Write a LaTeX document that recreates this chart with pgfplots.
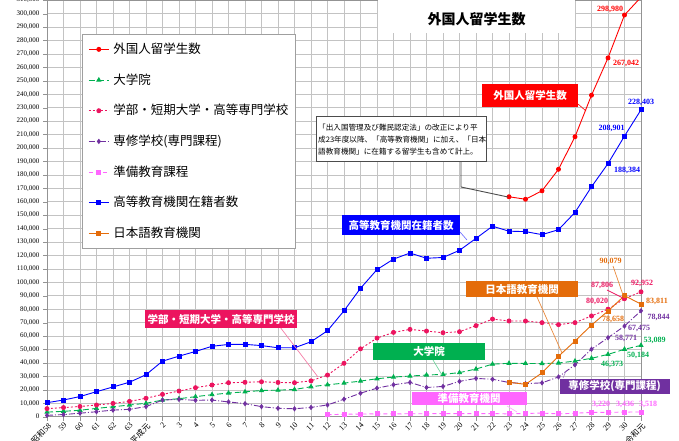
\documentclass[border=0pt]{standalone}
\usepackage{fontspec}
\setmainfont{Liberation Serif}
\newfontfamily\jp{Noto Sans CJK JP}
\usepackage{pgfplots}
\pgfplotsset{compat=1.18}
\definecolor{cRed}{RGB}{255,0,0}
\definecolor{cGreen}{RGB}{0,176,80}
\definecolor{cPink}{RGB}{236,20,95}
\definecolor{cPurple}{RGB}{112,48,160}
\definecolor{cMag}{RGB}{255,102,255}
\definecolor{cBlue}{RGB}{0,0,255}
\definecolor{cOrange}{RGB}{228,108,10}
\definecolor{gridc}{RGB}{195,195,195}
\begin{document}
\begin{tikzpicture}
\useasboundingbox (0,0) rectangle (679pt,441pt);
\begin{axis}[
  at={(47pt,24.3pt)}, anchor=south west,
  scale only axis, width=594pt, height=416.5pt,
  xmin=0, xmax=36, ymin=0, ymax=310000,
  xtick={0,...,36},
  xticklabels={{\jp 昭和}58,59,60,61,62,63,{\jp 平成元},2,3,4,5,6,7,8,9,10,11,12,13,14,15,16,17,18,19,20,21,22,23,24,25,26,27,28,29,30,{\jp 令和元}},
  ytick distance=10000,
  scaled y ticks=false,
  /pgf/number format/assume math mode=true,
  yticklabel style={font=\fontsize{7}{7}\selectfont, /pgf/number format/.cd, fixed, 1000 sep={,}},
  xticklabel style={font=\fontsize{8}{8}\selectfont, rotate=45, anchor=north east, inner sep=1pt},
  xmajorgrids, ymajorgrids,
  grid style={gridc, line width=0.6pt},
  axis line style={draw=gray!85},
  tick style={gray!85},
  tick pos=left, tick align=outside, major tick length=4pt,
  every axis plot/.append style={line width=0.9pt},
  legend cell align=left,
  legend style={at={(0.0589,0.919)}, anchor=north west, draw=gray!75, line width=0.8pt, fill=white,
    font=\jp\fontsize{12.5}{13}\selectfont, row sep=16.7pt, column sep=3pt,
    inner xsep=6pt, inner ysep=8pt,
    nodes={inner sep=1pt, text height=10pt, text depth=2pt}},
  legend image code/.code={\draw[mark repeat=2,mark phase=2] plot coordinates {(0pt,0pt) (10pt,0pt) (20pt,0pt)};},
]
% 外国人留学生数
\addplot[cRed, mark=*, mark size=2pt] coordinates {
(28,163697)(29,161848)(30,168145)(31,184155)(32,208379)(33,239287)(34,267042)(35,298980)(36,312214)};
\addlegendentry{外国人留学生数}
% 大学院
\addplot[cGreen, dash pattern=on 6pt off 3pt, mark=triangle*, mark size=2.2pt, mark options={solid}] coordinates {
(0,3400)(1,4000)(2,4800)(3,6200)(4,7400)(5,8700)(6,10000)(7,12400)(8,13400)(9,14900)(10,16400)(11,17600)(12,18500)(13,19500)(14,19750)(15,20250)(16,22300)(17,23750)(18,25000)(19,26500)(20,28250)(21,29500)(22,30250)(23,31000)(24,31500)(25,32800)(26,35500)(27,39097)(28,39749)(29,39641)(30,39567)(31,39979)(32,41396)(33,43478)(34,46373)(35,50184)(36,53089)};
\addlegendentry{大学院}
% 学部・短期大学・高等専門学校
\addplot[cPink, dash pattern=on 2pt off 2pt, mark=*, mark size=2pt, mark options={solid}] coordinates {
(0,6000)(1,6800)(2,7600)(3,8700)(4,9900)(5,11400)(6,13700)(7,16600)(8,19100)(9,21600)(10,23600)(11,25300)(12,25600)(13,26000)(14,25500)(15,25300)(16,26700)(17,31000)(18,39750)(19,50500)(20,58500)(21,62750)(22,65000)(23,63750)(24,62500)(25,63250)(26,67750)(27,72665)(28,71244)(29,71216)(30,70000)(31,68500)(32,70000)(33,75000)(34,80020)(35,87806)(36,92952)};
\addlegendentry{学部・短期大学・高等専門学校}
% 専修学校
\addplot[cPurple, dash pattern=on 6pt off 2pt on 1pt off 2pt, mark=diamond*, mark size=2pt, mark options={solid}] coordinates {
(0,1000)(1,1600)(2,2600)(3,3700)(4,4900)(5,5500)(6,7500)(7,12400)(8,12900)(9,12200)(10,12400)(11,11000)(12,9700)(13,7500)(14,6250)(15,5900)(16,6900)(17,8750)(18,13000)(19,17500)(20,21250)(21,23750)(22,25500)(23,21750)(24,22500)(25,26300)(26,28500)(27,27872)(28,25463)(29,24586)(30,25200)(31,29600)(32,38654)(33,50235)(34,58771)(35,67475)(36,78844)};
\addlegendentry{専修学校(専門課程)}
% 準備教育課程
\addplot[cMag, dash pattern=on 4pt off 3pt, mark=square*, mark size=2pt, mark options={solid}] coordinates {
(17,1500)(18,1800)(19,2000)(20,2100)(21,2100)(22,2200)(23,2200)(24,2300)(25,2300)(26,2300)(27,2300)(28,2100)(29,2400)(30,2700)(31,2100)(32,2600)(33,3180)(34,3220)(35,3436)(36,3518)};
\addlegendentry{準備教育課程}
% 高等教育機関在籍者数
\addplot[cBlue, mark=square*, mark size=2pt] coordinates {
(0,10428)(1,12410)(2,15009)(3,18631)(4,22154)(5,25643)(6,31251)(7,41347)(8,45066)(9,48561)(10,52405)(11,53787)(12,53847)(13,52921)(14,51298)(15,51298)(16,55755)(17,64011)(18,78812)(19,95550)(20,109508)(21,117302)(22,121812)(23,117927)(24,118498)(25,123829)(26,132720)(27,141774)(28,138075)(29,137756)(30,135519)(31,139185)(32,152062)(33,171122)(34,188384)(35,208901)(36,228403)};
\addlegendentry{高等教育機関在籍者数}
% 日本語教育機関
\addplot[cOrange, mark=square*, mark size=2pt] coordinates {
(28,25622)(29,24092)(30,32626)(31,44970)(32,56317)(33,68165)(34,78658)(35,90079)(36,83811)};
\addlegendentry{日本語教育機関}
\end{axis}
\begin{scope}[shift={(0pt,441pt)}, x=1pt, y=-1pt]
% title
\node[fill=white, minimum width=197pt, minimum height=34pt, inner sep=0pt] at (476.5,16) {};
\node[font=\jp\bfseries\fontsize{14}{14}\selectfont] at (476.5,19) {外国人留学生数};
% note box
\draw[gray!60!black, line width=0.9pt] (461,162) -- (461,187) -- (508,197);
\node[draw=gray!60!black, line width=1pt, fill=white, minimum width=170pt, minimum height=45pt, inner sep=0pt] at (401,139.5) {};
\node[font=\jp\fontsize{7.6}{12.3}\selectfont, align=left, inner sep=0pt, anchor=west] at (318,139.5) {「出入国管理及び難民認定法」の改正により平\\成23年度以降、「高等教育機関」に加え、「日本\\語教育機関」に在籍する留学生も含めて計上。};
% connectors
\draw[cRed, line width=0.6pt] (578,104) -- (586,111);
\draw[cBlue!60, line width=0.6pt] (460,232) -- (467,240);
\draw[cPink!55, line width=0.7pt] (280,327) -- (318,377);
\draw[cGreen!55, line width=0.7pt] (433,360) -- (442,375);
\draw[cOrange!80, line width=0.7pt] (537,297) -- (562,353);
\draw[cOrange!80, line width=0.7pt] (613,266) -- (623,295);
\draw[cPink, line width=0.7pt] (607,290) -- (623,298);
\draw[cPurple!60, line width=0.6pt] (563,378) -- (566,371);
\draw[cMag!60, line width=0.6pt] (507,406) -- (517,412);
% category boxes
\tikzset{cbox/.style={text=white, inner sep=0pt, font=\jp\bfseries\fontsize{10.5}{11}\selectfont}}
\node[cbox, fill=cRed, minimum width=96pt, minimum height=23pt] at (530,95.5) {外国人留学生数};
\node[cbox, fill=cBlue, minimum width=118pt, minimum height=20pt] at (401,225) {高等教育機関在籍者数};
\node[cbox, fill=cPink, minimum width=152pt, minimum height=18pt] at (221,319.5) {学部・短期大学・高等専門学校};
\node[cbox, fill=cGreen, minimum width=112pt, minimum height=17pt] at (429,351.5) {大学院};
\node[cbox, fill=cOrange, minimum width=112pt, minimum height=16pt] at (522,289.5) {日本語教育機関};
\node[cbox, fill=cPurple, minimum width=110pt, minimum height=15pt] at (614.5,386.5) {専修学校(専門課程)};
\node[cbox, fill=cMag, minimum width=115pt, minimum height=13pt] at (469,399) {準備教育機関};
% value labels
\tikzset{vl/.style={inner sep=0pt, font=\bfseries\fontsize{8}{8}\selectfont}}
\node[vl, text=cRed] at (610,9) {298,980};
\node[vl, text=cRed] at (626,63) {267,042};
\node[vl, text=cBlue] at (641,102) {228,403};
\node[vl, text=cBlue] at (611.5,128.3) {208,901};
\node[vl, text=cBlue] at (627,170) {188,384};
\node[vl, text=cOrange] at (610.5,261.7) {90,079};
\node[vl, text=cOrange] at (657,301.7) {83,811};
\node[vl, text=cOrange] at (613,319) {78,658};
\node[vl, text=cPink] at (642,283) {92,952};
\node[vl, text=cPink] at (602,285.7) {87,806};
\node[vl, text=cPink] at (597,301) {80,020};
\node[vl, text=cPurple] at (658.5,317.7) {78,844};
\node[vl, text=cPurple] at (639,328.3) {67,475};
\node[vl, text=cPurple] at (626,338.3) {58,771};
\node[vl, text=cGreen] at (654.5,340.7) {53,089};
\node[vl, text=cGreen] at (638,355.7) {50,184};
\node[vl, text=cGreen] at (612,364.7) {46,373};
\node[vl, text=cMag] at (601,404) {3,220};
\node[vl, text=cMag] at (625,404) {3,436};
\node[vl, text=cMag] at (648,404) {3,518};
\end{scope}
\end{tikzpicture}
\end{document}
